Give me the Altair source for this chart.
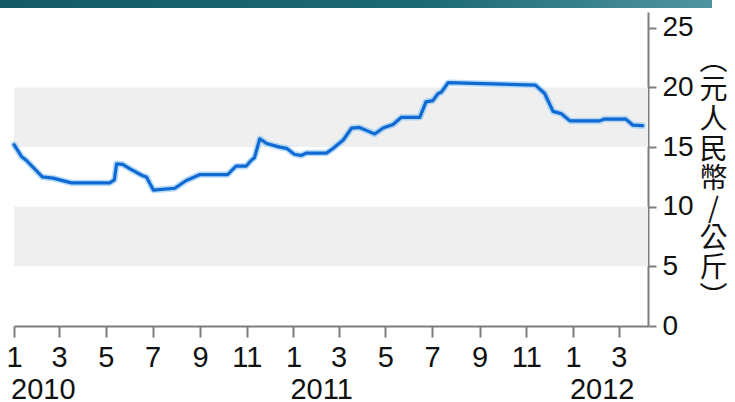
import altair as alt
import pandas as pd

# ---- data ----
dates = [
    "2010-01-01", "2010-01-11", "2010-01-17", "2010-02-07", "2010-02-21", "2010-03-17",
    "2010-05-06", "2010-05-12", "2010-05-15", "2010-05-23", "2010-06-01", "2010-06-18",
    "2010-06-23", "2010-07-02", "2010-07-30", "2010-08-14", "2010-09-01", "2010-10-07",
    "2010-10-18", "2010-10-31", "2010-11-07", "2010-11-11", "2010-11-18", "2010-11-27",
    "2010-12-14", "2010-12-23", "2011-01-02", "2011-01-11", "2011-01-18", "2011-02-13",
    "2011-02-22", "2011-03-07", "2011-03-18", "2011-03-28", "2011-04-10", "2011-04-17",
    "2011-04-28", "2011-05-11", "2011-05-22", "2011-06-15", "2011-06-23", "2011-07-02",
    "2011-07-09", "2011-07-13", "2011-07-22", "2011-11-13", "2011-11-25", "2011-12-06",
    "2011-12-17", "2011-12-28", "2012-02-05", "2012-02-11", "2012-03-10", "2012-03-19",
    "2012-04-01",
]
prices = [
    15.2, 14.2, 13.9, 12.5, 12.4, 12.0,
    12.0, 12.25, 13.6, 13.55, 13.2, 12.6,
    12.5, 11.4, 11.55, 12.2, 12.7, 12.7,
    13.4, 13.4, 13.9, 14.1, 15.7, 15.3,
    15.0, 14.9, 14.4, 14.3, 14.5, 14.5,
    14.9, 15.6, 16.6, 16.65, 16.3, 16.1,
    16.6, 16.9, 17.5, 17.5, 18.8, 18.9,
    19.5, 19.6, 20.4, 20.2, 19.5, 18.0,
    17.8, 17.2, 17.2, 17.35, 17.35, 16.85,
    16.8,
]
band_lo = [5, 15]
band_hi = [10, 20]
years = ["2010", "2011", "2012"]
year_dates = ["2010-01-01", "2011-01-01", "2012-01-01"]
y_ticks = [0, 5, 10, 15, 20, 25]
tick_months = [(2010, m) for m in (1, 3, 5, 7, 9, 11)] + \
              [(2011, m) for m in (1, 3, 5, 7, 9, 11)] + \
              [(2012, m) for m in (1, 3)]
title_chars = ["︵", "元", "人", "民", "幣", "/", "公", "斤", "︶"]

line_df = pd.DataFrame({"date": dates, "price": prices})
band_df = pd.DataFrame({"lo": band_lo, "hi": band_hi})
year_df = pd.DataFrame({"date": year_dates, "label": years})

W, H = 634, 314
FONT = "Liberation Sans"
GREY = "#7d7d7d"

x_scale = alt.Scale(
    type="utc",
    domain=[alt.DateTime(year=2010, month=1, date=1, utc=True),
            alt.DateTime(year=2012, month=4, date=8, utc=True)],
    nice=False,
)
y_scale = alt.Scale(domain=[0, 26.33], nice=False, zero=True)

x_axis = alt.Axis(
    orient="bottom",
    values=[alt.DateTime(year=y, month=m, date=1, utc=True) for y, m in tick_months],
    format="%-m",
    title=None,
    grid=False,
    domainColor=GREY, domainWidth=2,
    tickColor=GREY, tickWidth=2, tickSize=11,
    labelFont=FONT, labelFontSize=29, labelColor="#111111",
    labelPadding=6, labelFlush=False, labelOverlap=False,
)
y_axis = alt.Axis(
    orient="right",
    values=y_ticks,
    grid=False,
    domainColor=GREY, domainWidth=2,
    tickColor=GREY, tickWidth=2, tickSize=8,
    labelFont=FONT, labelFontSize=28, labelColor="#111111",
    labelPadding=6, labelAlign="left", labelBaseline="middle",
    title=title_chars,
    titleAngle=0, titleX=65, titleY=49,
    titleAlign="center", titleBaseline="middle",
    titleFont="Noto Sans CJK TC", titleFontSize=28, titleFontWeight="normal",
    titleLineHeight=29.7, titleColor="#111111",
)

bands = alt.Chart(band_df).mark_rect(color="#efefef").encode(
    y=alt.Y("lo:Q", scale=y_scale, axis=y_axis),
    y2="hi:Q",
)

halo = alt.Chart(line_df).mark_line(
    color="#7fc0f2", strokeWidth=6.5, opacity=0.55, strokeJoin="round", strokeCap="round"
).encode(
    x=alt.X("date:T", scale=x_scale, axis=x_axis),
    y=alt.Y("price:Q", scale=y_scale, axis=y_axis),
)

line = alt.Chart(line_df).mark_line(
    color="#0f6ad3", strokeWidth=3.2, strokeJoin="round", strokeCap="round"
).encode(
    x=alt.X("date:T", scale=x_scale, axis=x_axis),
    y=alt.Y("price:Q", scale=y_scale, axis=y_axis),
)

year_text = alt.Chart(year_df).mark_text(
    align="left", baseline="middle", dx=-3, font=FONT, fontSize=29, color="#111111"
).encode(
    x=alt.X("date:T", scale=x_scale, axis=x_axis),
    y=alt.value(378),
    text="label:N",
)

banner = alt.Chart(pd.DataFrame({"k": [0]})).mark_rect(
    color=alt.Gradient(
        gradient="linear",
        stops=[alt.GradientStop(color="#135a64", offset=0),
               alt.GradientStop(color="#1d6a74", offset=0.6),
               alt.GradientStop(color="#4f94a0", offset=1)],
        x1=0, x2=1, y1=0, y2=0,
    )
).encode(
    x=alt.value(-14), x2=alt.value(698),
    y=alt.value(-12), y2=alt.value(-4),
)

chart = alt.layer(bands, halo, line, year_text, banner).properties(
    width=W, height=H,
    padding={"left": 14, "top": 12, "right": 87, "bottom": 76},
    autosize=alt.AutoSizeParams(type="none"),
    background="white",
).configure_view(stroke=None)

chart.save("out.html", embed_options={"renderer": "svg", "actions": False})
